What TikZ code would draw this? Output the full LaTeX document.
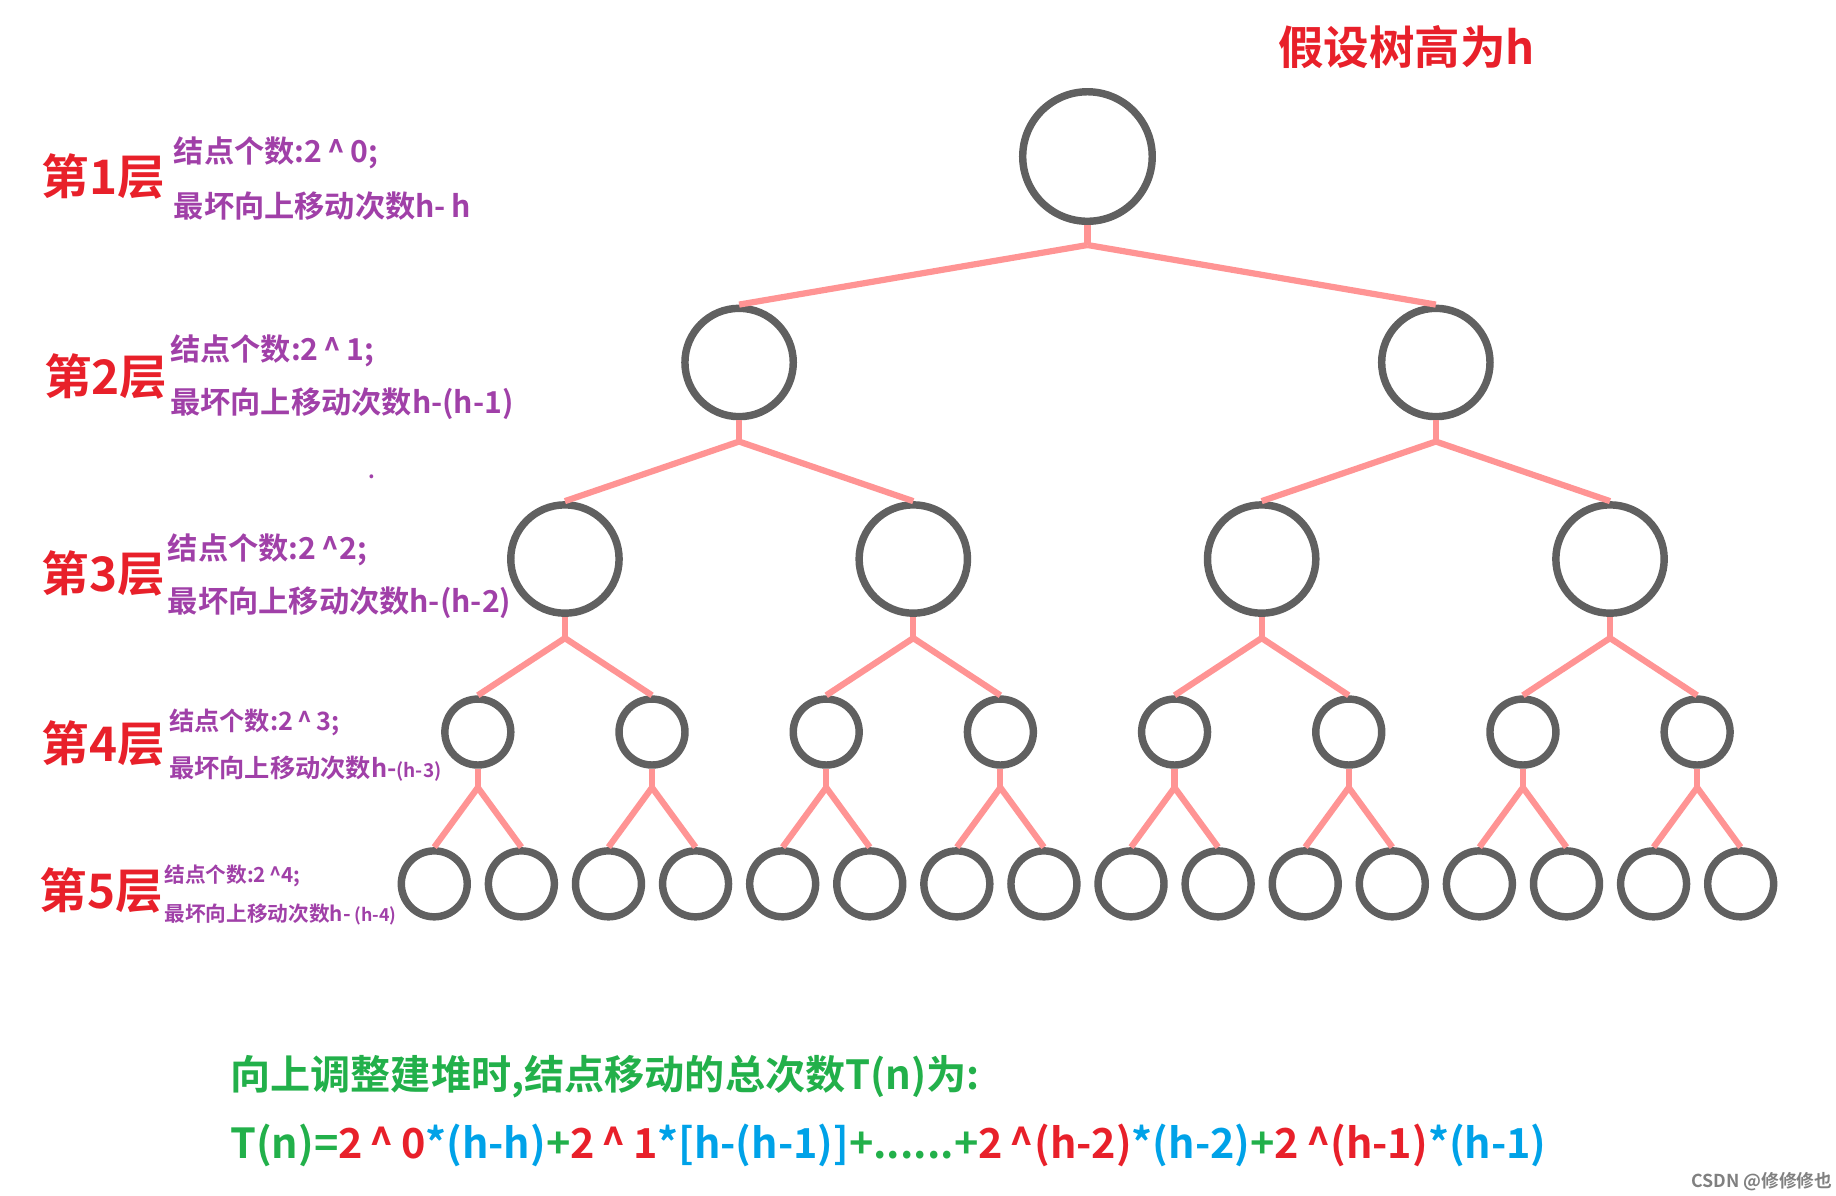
\documentclass[tikz,border=0pt]{standalone}
\usepackage{fontspec}
\setmainfont{Noto Sans CJK SC}[UprightFont={* Bold}]
\usetikzlibrary{positioning}
\definecolor{red1}{HTML}{E8202A}
\definecolor{purple1}{HTML}{A040A8}
\definecolor{green1}{HTML}{22B04A}
\definecolor{blue1}{HTML}{00A2E8}
\definecolor{edge1}{HTML}{FF9494}
\definecolor{ring1}{HTML}{606060}
\begin{document}
\begin{tikzpicture}[
    x=0.01cm, y=-0.01cm,
    ring/.style={circle, draw=ring1, line width=1.8pt, inner sep=0pt},
    big/.style={ring, minimum size=1.1cm},
    mid/.style={ring, minimum size=0.92cm},
    small/.style={ring, minimum size=0.56cm},
    link/.style={draw=edge1, line width=1.5pt},
    lvl/.style={text=red1, font=\fontsize{11.5}{12}\selectfont},
    info/.style={text=purple1, anchor=west, inner sep=0pt, font=\fontsize{7.3}{8}\selectfont},
]
\useasboundingbox (0,0) rectangle (1560,1016);

% tree nodes
\node[big] (a) at (924,133) {};
\foreach \i/\x in {1/628,2/1220} \node[mid] (b\i) at (\x,308) {};
\foreach \i/\x in {1/480,2/776,3/1072,4/1368} \node[mid] (c\i) at (\x,475) {};
\foreach \i in {1,...,8} \node[small] (d\i) at (406+148*\i-148,622) {};
\foreach \i in {1,...,16} \node[small] (e\i) at (369+74*\i-74,751) {};

% connectors
\draw[link] (a.south) -- ++(0,17) coordinate (ja);
\foreach \i in {1,2} \draw[link] (ja) -- (b\i.north);
\foreach \i in {1,2} {
  \draw[link] (b\i.south) -- ++(0,18) coordinate (jb\i);
  \pgfmathtruncatemacro\l{2*\i-1}\pgfmathtruncatemacro\r{2*\i}
  \draw[link] (c\l.north) -- (jb\i) -- (c\r.north);
}
\foreach \i in {1,...,4} {
  \draw[link] (c\i.south) -- ++(0,18) coordinate (jc\i);
  \pgfmathtruncatemacro\l{2*\i-1}\pgfmathtruncatemacro\r{2*\i}
  \draw[link] (d\l.north) -- (jc\i) -- (d\r.north);
}
\foreach \i in {1,...,8} {
  \draw[link] (d\i.south) -- ++(0,16) coordinate (jd\i);
  \pgfmathtruncatemacro\l{2*\i-1}\pgfmathtruncatemacro\r{2*\i}
  \draw[link] (e\l.north) -- (jd\i) -- (e\r.north);
}

% title
\node[text=red1, font=\fontsize{11}{12}\selectfont] (title) at (1195,40) {假设树高为h};

% level labels
\node[lvl] (l1) at (88,150) {第1层};
\node[info] (l1a) at (147,130) {结点个数:2\,\^{}\,0;};
\node[info] (l1b) at (147,175) {最坏向上移动次数h-\,h};
\node[lvl] (l2) at (90,320) {第2层};
\node[info] (l2a) at (144,298) {结点个数:2\,\^{}\,1;};
\node[info] (l2b) at (144,343) {最坏向上移动次数h-(h-1)};
\node[text=purple1, font=\tiny] (dot) at (316,405) {.};
\node[lvl] (l3) at (88,487) {第3层};
\node[info] (l3a) at (142,467) {结点个数:2\,\^{}2;};
\node[info] (l3b) at (142,512) {最坏向上移动次数h-(h-2)};
\node[lvl] (l4) at (88,632) {第4层};
\node[info, font=\fontsize{6.1}{7}\selectfont] (l4a) at (143,614) {结点个数:2\,\^{}\,3;};
\node[info, font=\fontsize{6.1}{7}\selectfont] (l4b) at (143,653) {最坏向上移动次数h-{\fontsize{4.6}{5}\selectfont(h-3)}};
\node[lvl] (l5) at (86,757) {第5层};
\node[info, font=\fontsize{5}{6}\selectfont] (l5a) at (139,744) {结点个数:2\,\^{}4;};
\node[info, font=\fontsize{5}{6}\selectfont] (l5b) at (139,777) {最坏向上移动次数h-\,{\fontsize{4.3}{5}\selectfont(h-4)}};

% formula
\node[anchor=west, inner sep=0pt, text=green1, font=\fontsize{9.7}{11}\selectfont] (sum) at (195,915) {向上调整建堆时,结点移动的总次数T(n)为:};
\node[anchor=west, inner sep=0pt, font=\fontsize{10}{11}\selectfont] (eq) at (195,973)
  {\textcolor{green1}{T(n)=}\textcolor{red1}{2\,\^{}\,0}\textcolor{blue1}{*(h-h)}\textcolor{green1}{+}\textcolor{red1}{2\,\^{}\,1}\textcolor{blue1}{*[h-(h-1)]}\textcolor{green1}{+......+}\textcolor{red1}{2\,\^{}(h-2)}\textcolor{blue1}{*(h-2)}\textcolor{green1}{+}\textcolor{red1}{2\,\^{}(h-1)}\textcolor{blue1}{*(h-1)}};
\node[text=gray, font=\fontsize{4.3}{5}\selectfont] (mark) at (1497,1004) {CSDN @修修修也};
\end{tikzpicture}
\end{document}
